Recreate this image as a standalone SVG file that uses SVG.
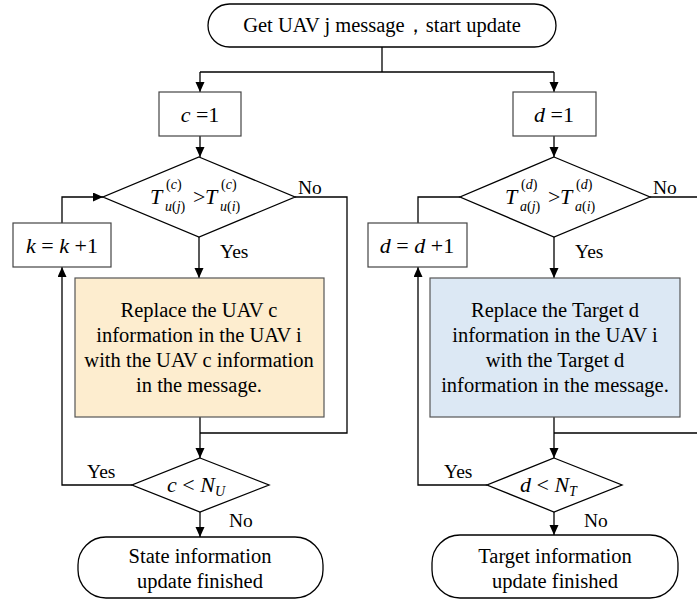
<svg xmlns="http://www.w3.org/2000/svg" width="697" height="600" viewBox="0 0 697 600" font-family="'Liberation Serif','Times New Roman',serif">
<defs>
<marker id="ah" markerUnits="userSpaceOnUse" markerWidth="10" markerHeight="10" refX="10" refY="4.5" orient="auto">
<path d="M0,0 L10,4.5 L0,9 z" fill="#000"/>
</marker>
<style>
text{font-family:"Liberation Serif","Times New Roman",serif;fill:#000}
.t{font-size:20.5px;text-anchor:middle}
.lbl{font-size:19.5px}
.mi{font-size:22px;font-style:italic}
.mn{font-size:22px}
.sm{font-size:14px;font-style:italic}
.smn{font-size:14px}
.term{fill:#fff;stroke:#000;stroke-width:1.3}
.box{fill:#fff;stroke:#444;stroke-width:1.2}
.dia{fill:#fff;stroke:#000;stroke-width:1.3}
.c{fill:none;stroke:#000;stroke-width:1.3}
.a{marker-end:url(#ah)}
</style>
</defs>
<rect width="697" height="600" fill="#fff"/>

<g id="connectors">
<path class="c" d="M382,47 V72"/>
<path class="c" d="M200,72 H554"/>
<path class="c a" d="M200,72 V92"/>
<path class="c a" d="M554,72 V92"/>
<path class="c a" d="M200,136 V157"/>
<path class="c a" d="M554,136 V157"/>
<path class="c a" d="M199,237 V278"/>
<path class="c a" d="M554,237 V278"/>
<path class="c" d="M295,197 H347 V433 H200"/>
<path class="c a" d="M200,417 V458"/>
<path class="c a" d="M132,485 H62 V267"/>
<path class="c a" d="M62,223 V197 H103"/>
<path class="c a" d="M200,512 V537"/>
<path class="c" d="M650,197 H705 V433 H554"/>
<path class="c a" d="M554,417 V458"/>
<path class="c" d="M460,197 H418 V223"/>
<path class="c a" d="M487,485 H418 V267"/>
<path class="c a" d="M554,512 V535"/>
<text class="lbl" x="298" y="194">No</text>
<text class="lbl" x="220" y="258">Yes</text>
<text class="lbl" x="87" y="478">Yes</text>
<text class="lbl" x="229" y="527">No</text>
<text class="lbl" x="653" y="194">No</text>
<text class="lbl" x="575" y="258">Yes</text>
<text class="lbl" x="444" y="478">Yes</text>
<text class="lbl" x="584" y="527">No</text>
</g>

<g id="start">
<rect class="term" x="208" y="4" width="348" height="43" rx="21.5"/>
<text class="t" x="382" y="32">Get UAV j message，start update</text>
</g>

<g id="c-init">
<rect class="box" x="159" y="92" width="82" height="44"/>
<text x="200" y="122" text-anchor="middle"><tspan class="mi">c</tspan><tspan class="mn"> =1</tspan></text>
</g>

<g id="d-init">
<rect class="box" x="513" y="92" width="83" height="44"/>
<text x="554" y="122" text-anchor="middle"><tspan class="mi">d</tspan><tspan class="mn"> =1</tspan></text>
</g>

<g id="cond-c">
<polygon class="dia" points="199,157 295,197 199,237 103,197"/>
<text class="mi" x="150" y="204">T</text>
<text x="166" y="189"><tspan class="smn">(</tspan><tspan class="sm">c</tspan><tspan class="smn">)</tspan></text>
<text x="165" y="211"><tspan class="sm">u</tspan><tspan class="smn">(</tspan><tspan class="sm">j</tspan><tspan class="smn">)</tspan></text>
<text class="mn" x="193" y="204">&gt;</text>
<text class="mi" x="205" y="204">T</text>
<text x="221" y="189"><tspan class="smn">(</tspan><tspan class="sm">c</tspan><tspan class="smn">)</tspan></text>
<text x="220" y="211"><tspan class="sm">u</tspan><tspan class="smn">(</tspan><tspan class="sm">i</tspan><tspan class="smn">)</tspan></text>
</g>

<g id="cond-d">
<polygon class="dia" points="554,157 650,197 554,237 460,197"/>
<text class="mi" x="505" y="204">T</text>
<text x="521" y="189"><tspan class="smn">(</tspan><tspan class="sm">d</tspan><tspan class="smn">)</tspan></text>
<text x="520" y="211"><tspan class="sm">a</tspan><tspan class="smn">(</tspan><tspan class="sm">j</tspan><tspan class="smn">)</tspan></text>
<text class="mn" x="548" y="204">&gt;</text>
<text class="mi" x="560" y="204">T</text>
<text x="576" y="189"><tspan class="smn">(</tspan><tspan class="sm">d</tspan><tspan class="smn">)</tspan></text>
<text x="575" y="211"><tspan class="sm">a</tspan><tspan class="smn">(</tspan><tspan class="sm">i</tspan><tspan class="smn">)</tspan></text>
</g>

<g id="k-inc">
<rect class="box" x="13" y="223" width="98" height="44"/>
<text x="62" y="253" text-anchor="middle"><tspan class="mi">k</tspan><tspan class="mn"> = </tspan><tspan class="mi">k</tspan><tspan class="mn"> +1</tspan></text>
</g>

<g id="d-inc">
<rect class="box" x="368" y="223" width="99" height="44"/>
<text x="417" y="253" text-anchor="middle"><tspan class="mi">d</tspan><tspan class="mn"> = </tspan><tspan class="mi">d</tspan><tspan class="mn"> +1</tspan></text>
</g>

<g id="replace-uav">
<rect x="75" y="278" width="249" height="139" fill="#FDEDCF" stroke="#555" stroke-width="1.2"/>
<text class="t" x="199" y="317">Replace the UAV c</text>
<text class="t" x="199" y="342">information in the UAV i</text>
<text class="t" x="199" y="367">with the UAV c information</text>
<text class="t" x="199" y="392">in the message.</text>
</g>

<g id="replace-target">
<rect x="430" y="278" width="250" height="139" fill="#DCE8F4" stroke="#555" stroke-width="1.2"/>
<text class="t" x="555" y="317">Replace the Target d</text>
<text class="t" x="555" y="342">information in the UAV i</text>
<text class="t" x="555" y="367">with the Target d</text>
<text class="t" x="555" y="392">information in the message.</text>
</g>

<g id="loop-c">
<polygon class="dia" points="200,458 269,485 200,512 132,485"/>
<text x="167" y="492"><tspan class="mi">c</tspan><tspan class="mn"> &lt; </tspan><tspan class="mi">N</tspan><tspan class="sm" dy="4">U</tspan></text>
</g>

<g id="loop-d">
<polygon class="dia" points="554,458 622,485 554,512 487,485"/>
<text x="520" y="492"><tspan class="mi">d</tspan><tspan class="mn"> &lt; </tspan><tspan class="mi">N</tspan><tspan class="sm" dy="4">T</tspan></text>
</g>

<g id="end-state">
<rect class="term" x="78" y="537" width="245" height="61" rx="28"/>
<text class="t" x="200" y="563">State information</text>
<text class="t" x="200" y="588">update finished</text>
</g>

<g id="end-target">
<rect class="term" x="432" y="535" width="246" height="63" rx="28"/>
<text class="t" x="555" y="563">Target information</text>
<text class="t" x="555" y="588">update finished</text>
</g>
</svg>
